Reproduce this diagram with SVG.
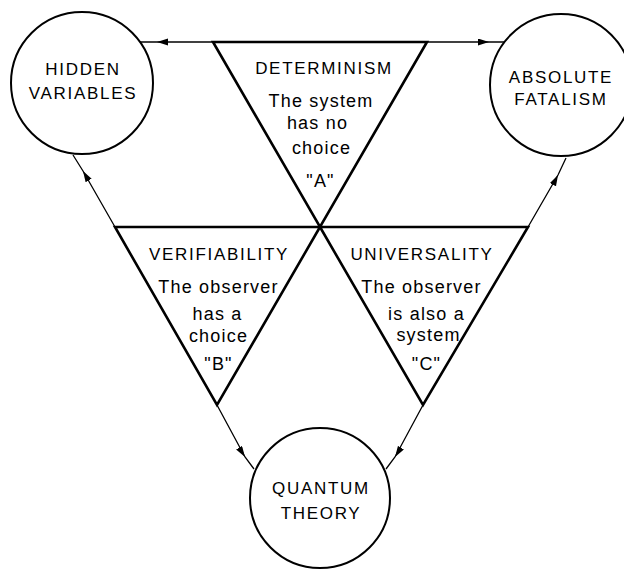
<svg xmlns="http://www.w3.org/2000/svg" width="624" height="570" viewBox="0 0 624 570">
<defs>
<style>
.circ{fill:#fff;stroke:#000;stroke-width:2}
.tri{fill:#fff;stroke:#000;stroke-width:2.6;stroke-linejoin:miter}
.con{fill:none;stroke:#000;stroke-width:1.3}
text{font-family:"Liberation Sans",Arial,sans-serif;fill:#000;text-anchor:middle}
.cap{font-size:17px;letter-spacing:1.7px}
.body{font-size:18px;letter-spacing:1.2px}
</style>
<marker id="ah" markerUnits="userSpaceOnUse" markerWidth="12" markerHeight="8" refX="11" refY="3.5" orient="auto">
<path d="M0,0 L11,3.5 L0,7 z" fill="#000"/>
</marker>
</defs>
<rect width="624" height="570" fill="#fff"/>
<g id="connectors">
<polyline class="con" points="213,42 157,42 139,42" marker-mid="url(#ah)"/>
<polyline class="con" points="427,42 489,42 505,42" marker-mid="url(#ah)"/>
<polyline class="con" points="115,227 83,171 73,155" marker-mid="url(#ah)"/>
<polyline class="con" points="528,227 558,175 566,158" marker-mid="url(#ah)"/>
<polyline class="con" points="217,405 245,457 254,469" marker-mid="url(#ah)"/>
<polyline class="con" points="423,405 395,457 386,469" marker-mid="url(#ah)"/>
</g>
<g id="hidden-variables">
<circle class="circ" cx="82" cy="83" r="71"/>
<text class="cap" x="83" y="75">HIDDEN</text>
<text class="cap" x="83" y="99">VARIABLES</text>
</g>
<g id="absolute-fatalism">
<circle class="circ" cx="561" cy="85" r="71"/>
<text class="cap" x="561" y="83">ABSOLUTE</text>
<text class="cap" x="561" y="105">FATALISM</text>
</g>
<g id="quantum-theory">
<circle class="circ" cx="320" cy="498" r="70"/>
<text class="cap" x="321" y="494">QUANTUM</text>
<text class="cap" x="321" y="519">THEORY</text>
</g>
<g id="determinism">
<polygon class="tri" points="213,42 427,42 320,227"/>
<text class="cap" x="324" y="74">DETERMINISM</text>
<text class="body" x="321" y="107">The system</text>
<text class="body" x="317.5" y="129">has no</text>
<text class="body" x="321.5" y="154">choice</text>
<text class="body" x="320.5" y="187">"A"</text>
</g>
<g id="verifiability">
<polygon class="tri" points="115,227 320,227 217,405"/>
<text class="cap" x="219" y="260">VERIFIABILITY</text>
<text class="body" x="218.5" y="293">The observer</text>
<text class="body" x="217.5" y="320">has a</text>
<text class="body" x="218.5" y="342">choice</text>
<text class="body" x="218.5" y="370">"B"</text>
</g>
<g id="universality">
<polygon class="tri" points="320,227 528,227 423,405"/>
<text class="cap" x="422" y="260">UNIVERSALITY</text>
<text class="body" x="421.5" y="293">The observer</text>
<text class="body" x="426.5" y="320">is also a</text>
<text class="body" x="428.5" y="341">system</text>
<text class="body" x="426.5" y="370">"C"</text>
</g>
</svg>
